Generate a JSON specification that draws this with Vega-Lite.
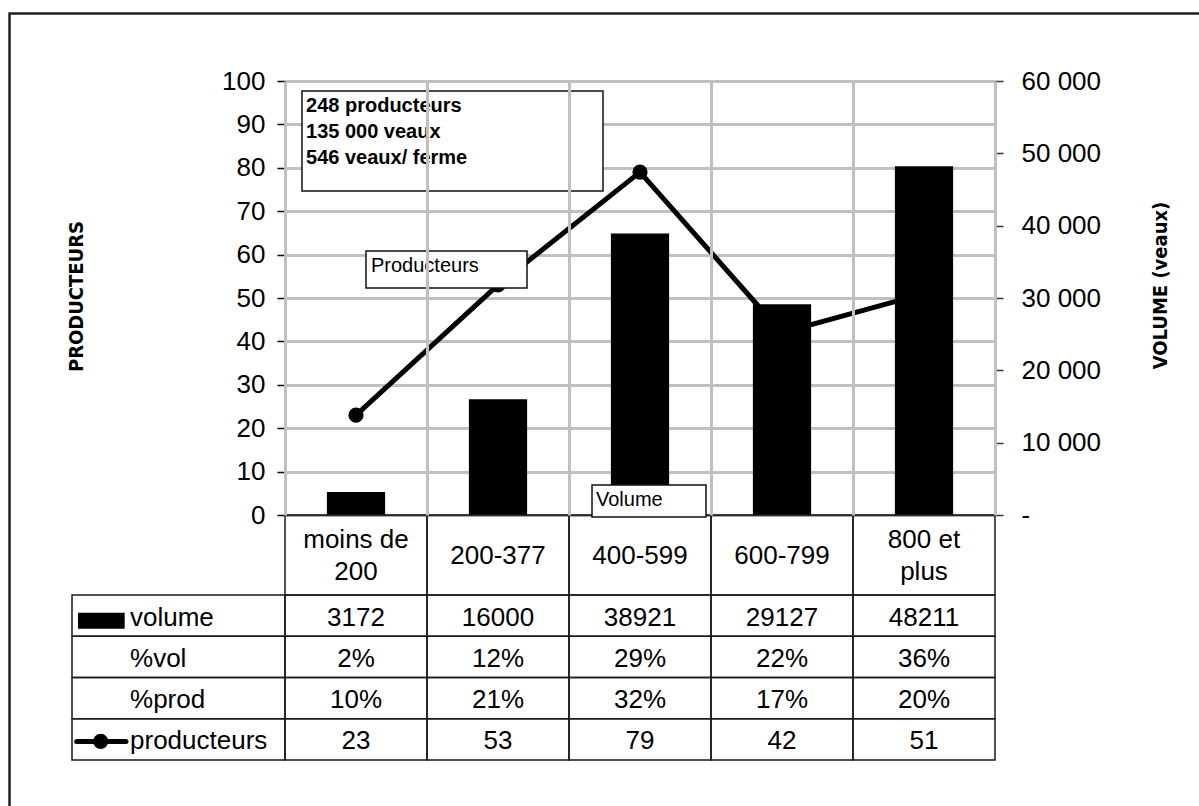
{
  "$schema": "https://vega.github.io/schema/vega-lite/v6.json",
  "width": 710,
  "height": 434,
  "autosize": {"type": "none"},
  "padding": {"left": 285, "top": 81, "right": 204, "bottom": 291},
  "background": "white",
  "config": {
    "view": {"stroke": null},
    "font": "Liberation Sans",
    "axis": {
      "labelFont": "Liberation Sans",
      "labelFontSize": 26,
      "labelColor": "black",
      "titleFont": "DejaVu Sans Condensed, Liberation Sans Narrow, Liberation Sans, sans-serif",
      "titleFontWeight": "bold",
      "titleFontSize": 20,
      "titleColor": "black"
    },
    "text": {"font": "Liberation Sans", "fontSize": 26, "color": "black"}
  },
  "datasets": {
    "classes": [
      {"cat": "moins de 200", "label": ["moins de", "200"], "volume": 3172, "pctVol": "2%", "pctProd": "10%", "producteurs": 23},
      {"cat": "200-377", "label": "200-377", "volume": 16000, "pctVol": "12%", "pctProd": "21%", "producteurs": 53},
      {"cat": "400-599", "label": "400-599", "volume": 38921, "pctVol": "29%", "pctProd": "32%", "producteurs": 79},
      {"cat": "600-799", "label": "600-799", "volume": 29127, "pctVol": "22%", "pctProd": "17%", "producteurs": 42},
      {"cat": "800 et plus", "label": ["800 et", "plus"], "volume": 48211, "pctVol": "36%", "pctProd": "20%", "producteurs": 51}
    ],
    "rows": [
      {"key": "volume", "label": "volume"},
      {"key": "pctVol", "label": "%vol"},
      {"key": "pctProd", "label": "%prod"},
      {"key": "producteurs", "label": "producteurs"}
    ]
  },
  "data": {"name": "classes"},
  "resolve": {"scale": {"x": "independent", "y": "independent"}},
  "layer": [
    {
      "data": {"values": [{}]},
      "mark": {"type": "rect", "filled": false, "stroke": "#222222", "strokeWidth": 2.5},
      "encoding": {
        "x": {"datum": -1.94, "type": "quantitative", "scale": {"domain": [0, 5], "nice": false}, "axis": null},
        "x2": {"datum": 7},
        "y": {"datum": 115.55, "type": "quantitative", "scale": {"domain": [0, 100], "nice": false}, "axis": null},
        "y2": {"datum": -80}
      }
    },
    {
      "mark": {"type": "line", "color": "black", "strokeWidth": 5, "point": {"filled": true, "size": 230, "color": "black"}},
      "encoding": {
        "x": {"field": "cat", "type": "nominal", "scale": {"type": "point", "domain": ["moins de 200", "200-377", "400-599", "600-799", "800 et plus"], "padding": 0.5}, "axis": null},
        "y": {
          "field": "producteurs", "type": "quantitative",
          "scale": {"domain": [0, 100], "nice": false},
          "axis": {
            "orient": "left",
            "values": [0, 10, 20, 30, 40, 50, 60, 70, 80, 90, 100],
            "grid": true,
            "gridColor": {"condition": {"test": "datum.value == 0", "value": "#555555"}, "value": "#c0c0c0"},
            "gridWidth": {"condition": {"test": "datum.value == 0", "value": 2}, "value": 3},
            "domainColor": "black",
            "domainWidth": 1.5,
            "tickColor": "black",
            "tickWidth": 1.5,
            "tickSize": 8,
            "labelPadding": 12,
            "title": "PRODUCTEURS",
            "titleAngle": 270,
            "titleX": -209,
            "titleY": 215,
            "titleAlign": "center",
            "titleBaseline": "middle"
          }
        }
      }
    },
    {
      "mark": {"type": "bar", "color": "black"},
      "encoding": {
        "x": {"field": "cat", "type": "nominal", "scale": {"type": "band", "domain": ["moins de 200", "200-377", "400-599", "600-799", "800 et plus"], "paddingInner": 0.59, "paddingOuter": 0.295}, "axis": null},
        "y": {
          "field": "volume", "type": "quantitative",
          "scale": {"domain": [0, 60000], "nice": false},
          "axis": {
            "orient": "right",
            "values": [0, 10000, 20000, 30000, 40000, 50000, 60000],
            "grid": false,
            "labelExpr": "datum.value == 0 ? '-' : format(datum.value / 1000, 'd') + ' 000'",
            "labelAlign": "left",
            "domainColor": "#555555",
            "domainWidth": 2,
            "tickColor": "#333333",
            "tickWidth": 1.5,
            "tickSize": 8,
            "labelPadding": 18,
            "title": "VOLUME (veaux)",
            "titleAngle": 270,
            "titleX": 165,
            "titleY": 204,
            "titleAlign": "center",
            "titleBaseline": "middle"
          }
        }
      }
    },
    {
      "mark": {"type": "rect", "filled": false, "stroke": "#1a1a1a", "strokeWidth": 1.5},
      "encoding": {
        "x": {
          "field": "cat", "type": "nominal",
          "scale": {"type": "band", "domain": ["moins de 200", "200-377", "400-599", "600-799", "800 et plus"], "paddingInner": 0, "paddingOuter": 0},
          "axis": {"orient": "bottom", "labels": false, "ticks": false, "domain": false, "title": null, "grid": true, "gridColor": "#c0c0c0", "gridWidth": 3, "tickBand": "extent"}
        },
        "y": {"datum": 0, "type": "quantitative", "scale": {"domain": [0, 100], "nice": false}, "axis": null},
        "y2": {"datum": -18.43}
      }
    },
    {
      "transform": [{"filter": "!isArray(datum.label)"}],
      "mark": {"type": "text", "align": "center", "baseline": "middle", "dy": 1},
      "encoding": {
        "x": {"field": "cat", "type": "nominal", "scale": {"type": "band", "domain": ["moins de 200", "200-377", "400-599", "600-799", "800 et plus"], "paddingInner": 0, "paddingOuter": 0}, "axis": null},
        "y": {"datum": -9.22, "type": "quantitative", "scale": {"domain": [0, 100], "nice": false}, "axis": null},
        "text": {"field": "label", "type": "nominal"}
      }
    },
    {
      "transform": [{"filter": "isArray(datum.label)"}],
      "mark": {"type": "text", "align": "center", "baseline": "middle", "lineHeight": 32, "dy": 1},
      "encoding": {
        "x": {"field": "cat", "type": "nominal", "scale": {"type": "band", "domain": ["moins de 200", "200-377", "400-599", "600-799", "800 et plus"], "paddingInner": 0, "paddingOuter": 0}, "axis": null},
        "y": {"datum": -5.53, "type": "quantitative", "scale": {"domain": [0, 100], "nice": false}, "axis": null},
        "text": {"field": "label", "type": "nominal"}
      }
    },
    {
      "transform": [{"fold": ["volume", "pctVol", "pctProd", "producteurs"], "as": ["key", "value"]}],
      "mark": {"type": "rect", "filled": false, "stroke": "#1a1a1a", "strokeWidth": 1.5},
      "encoding": {
        "x": {"field": "cat", "type": "nominal", "scale": {"type": "band", "domain": ["moins de 200", "200-377", "400-599", "600-799", "800 et plus"], "paddingInner": 0, "paddingOuter": 0}, "axis": null},
        "y": {"field": "key", "type": "nominal", "scale": {"type": "band", "domain": ["volume", "pctVol", "pctProd", "producteurs"], "range": [514, 679], "paddingInner": 0, "paddingOuter": 0}, "axis": null}
      }
    },
    {
      "transform": [{"fold": ["volume", "pctVol", "pctProd", "producteurs"], "as": ["key", "value"]}],
      "mark": {"type": "text", "align": "center", "baseline": "middle", "dy": 2},
      "encoding": {
        "x": {"field": "cat", "type": "nominal", "scale": {"type": "band", "domain": ["moins de 200", "200-377", "400-599", "600-799", "800 et plus"], "paddingInner": 0, "paddingOuter": 0}, "axis": null},
        "y": {"field": "key", "type": "nominal", "scale": {"type": "point", "domain": ["volume", "pctVol", "pctProd", "producteurs"], "range": [514, 679], "padding": 0.5}, "axis": null},
        "text": {"field": "value", "type": "nominal"}
      }
    },
    {
      "data": {"name": "rows"},
      "mark": {"type": "rect", "filled": false, "stroke": "#1a1a1a", "strokeWidth": 1.5},
      "encoding": {
        "x": {"datum": -1.5, "type": "quantitative", "scale": {"domain": [0, 5], "nice": false}, "axis": null},
        "x2": {"datum": 0},
        "y": {"field": "key", "type": "nominal", "scale": {"type": "band", "domain": ["volume", "pctVol", "pctProd", "producteurs"], "range": [514, 679], "paddingInner": 0, "paddingOuter": 0}, "axis": null}
      }
    },
    {
      "data": {"name": "rows"},
      "mark": {"type": "text", "align": "left", "baseline": "middle", "dy": 2},
      "encoding": {
        "x": {"datum": -1.0915, "type": "quantitative", "scale": {"domain": [0, 5], "nice": false}, "axis": null},
        "y": {"field": "key", "type": "nominal", "scale": {"type": "point", "domain": ["volume", "pctVol", "pctProd", "producteurs"], "range": [514, 679], "padding": 0.5}, "axis": null},
        "text": {"field": "label", "type": "nominal"}
      }
    },
    {
      "data": {"values": [{}]},
      "mark": {"type": "rect", "color": "black"},
      "encoding": {
        "x": {"datum": -1.458, "type": "quantitative", "scale": {"domain": [0, 5], "nice": false}, "axis": null},
        "x2": {"datum": -1.129},
        "y": {"datum": -22.5, "type": "quantitative", "scale": {"domain": [0, 100], "nice": false}, "axis": null},
        "y2": {"datum": -26.2}
      }
    },
    {
      "data": {"values": [{}]},
      "mark": {"type": "rule", "color": "black", "strokeWidth": 5, "strokeCap": "round", "yOffset": 2},
      "encoding": {
        "x": {"datum": -1.467, "type": "quantitative", "scale": {"domain": [0, 5], "nice": false}, "axis": null},
        "x2": {"datum": -1.12},
        "y": {"datum": "producteurs", "type": "nominal", "scale": {"type": "point", "domain": ["volume", "pctVol", "pctProd", "producteurs"], "range": [514, 679], "padding": 0.5}, "axis": null}
      }
    },
    {
      "data": {"values": [{}]},
      "mark": {"type": "point", "filled": true, "size": 230, "color": "black", "opacity": 1, "yOffset": 2},
      "encoding": {
        "x": {"datum": -1.298, "type": "quantitative", "scale": {"domain": [0, 5], "nice": false}, "axis": null},
        "y": {"datum": "producteurs", "type": "nominal", "scale": {"type": "point", "domain": ["volume", "pctVol", "pctProd", "producteurs"], "range": [514, 679], "padding": 0.5}, "axis": null}
      }
    },
    {
      "data": {"values": [{}]},
      "mark": {"type": "rect", "fill": "white", "stroke": "#111111", "strokeWidth": 1.5},
      "encoding": {
        "x": {"datum": 0.1197, "type": "quantitative", "scale": {"domain": [0, 5], "nice": false}, "axis": null},
        "x2": {"datum": 2.2394},
        "y": {"datum": 97.7, "type": "quantitative", "scale": {"domain": [0, 100], "nice": false}, "axis": null},
        "y2": {"datum": 74.65}
      }
    },
    {
      "data": {"values": [{}]},
      "mark": {"type": "text", "text": ["248 producteurs", "135 000 veaux", "546 veaux/ ferme"], "align": "left", "baseline": "alphabetic", "fontWeight": "bold", "fontSize": 20, "lineHeight": 26},
      "encoding": {
        "x": {"datum": 0.148, "type": "quantitative", "scale": {"domain": [0, 5], "nice": false}, "axis": null},
        "y": {"datum": 92.86, "type": "quantitative", "scale": {"domain": [0, 100], "nice": false}, "axis": null}
      }
    },
    {
      "data": {"values": [{}]},
      "mark": {"type": "rect", "fill": "white", "stroke": "#111111", "strokeWidth": 1.5},
      "encoding": {
        "x": {"datum": 0.5704, "type": "quantitative", "scale": {"domain": [0, 5], "nice": false}, "axis": null},
        "x2": {"datum": 1.7042},
        "y": {"datum": 60.83, "type": "quantitative", "scale": {"domain": [0, 100], "nice": false}, "axis": null},
        "y2": {"datum": 52.3}
      }
    },
    {
      "data": {"values": [{}]},
      "mark": {"type": "text", "text": "Producteurs", "align": "left", "baseline": "alphabetic", "fontSize": 20},
      "encoding": {
        "x": {"datum": 0.6056, "type": "quantitative", "scale": {"domain": [0, 5], "nice": false}, "axis": null},
        "y": {"datum": 55.99, "type": "quantitative", "scale": {"domain": [0, 100], "nice": false}, "axis": null}
      }
    },
    {
      "data": {"values": [{}]},
      "mark": {"type": "rect", "fill": "white", "stroke": "#111111", "strokeWidth": 1.5},
      "encoding": {
        "x": {"datum": 2.162, "type": "quantitative", "scale": {"domain": [0, 5], "nice": false}, "axis": null},
        "x2": {"datum": 2.9648},
        "y": {"datum": 6.91, "type": "quantitative", "scale": {"domain": [0, 100], "nice": false}, "axis": null},
        "y2": {"datum": -0.46}
      }
    },
    {
      "data": {"values": [{}]},
      "mark": {"type": "text", "text": "Volume", "align": "left", "baseline": "alphabetic", "fontSize": 20},
      "encoding": {
        "x": {"datum": 2.19, "type": "quantitative", "scale": {"domain": [0, 5], "nice": false}, "axis": null},
        "y": {"datum": 2.07, "type": "quantitative", "scale": {"domain": [0, 100], "nice": false}, "axis": null}
      }
    }
  ]
}
